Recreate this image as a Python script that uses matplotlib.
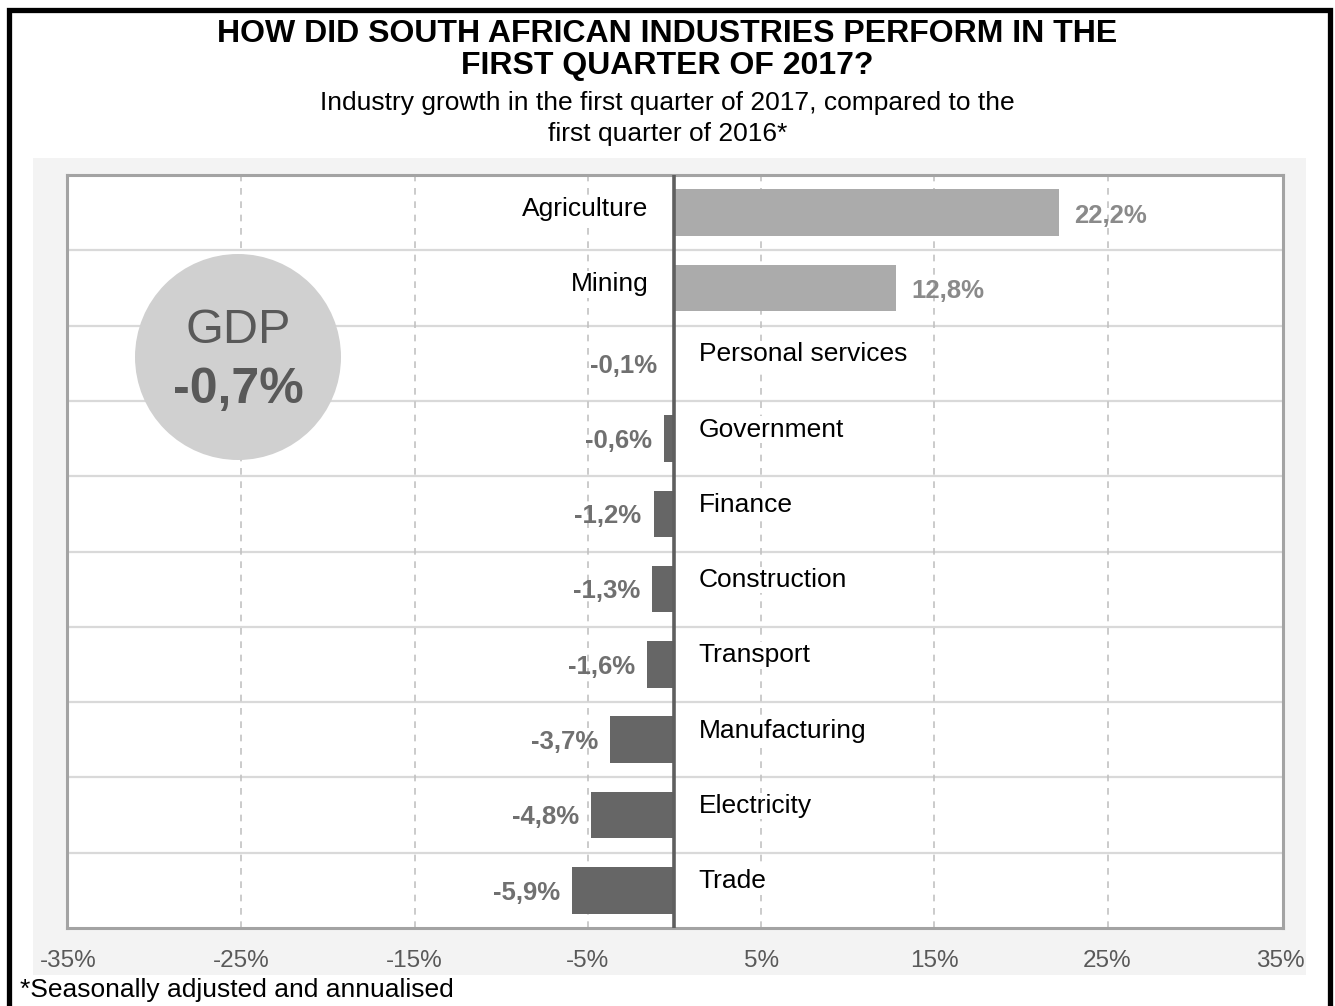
import matplotlib.pyplot as plt
from matplotlib.patches import Rectangle, Circle

plt.rcParams["font.family"] = ["Liberation Sans", "DejaVu Sans"]

W, H = 1335, 1006
DPI = 100

industries = ["Agriculture", "Mining", "Personal services", "Government", "Finance",
              "Construction", "Transport", "Manufacturing", "Electricity", "Trade"]
growth = [22.2, 12.8, -0.1, -0.6, -1.2, -1.3, -1.6, -3.7, -4.8, -5.9]
tick_values = [-35, -25, -15, -5, 5, 15, 25, 35]
tick_labels = ["-35%", "-25%", "-15%", "-5%", "5%", "15%", "25%", "35%"]
gdp_label = "GDP"
gdp_value = "-0,7%"

POS_BAR = "#ababab"
NEG_BAR = "#666666"
POS_TXT = "#8a8a8a"
NEG_TXT = "#707070"


def fx(x):
    return x / W


def fy(y):
    return (H - y) / H


fig = plt.figure(figsize=(W / DPI, H / DPI), dpi=DPI)

# light gray panel behind the plot
fig.add_artist(Rectangle((fx(33), fy(975)), fx(1306) - fx(33), fy(158) - fy(975),
                         transform=fig.transFigure, facecolor="#f3f3f3",
                         edgecolor="none", zorder=-2))
# black outer border (bottom edge runs off the image)
fig.add_artist(Rectangle((fx(8.5), -0.05), fx(1330) - fx(8.5), fy(10) + 0.05,
                         transform=fig.transFigure, facecolor="none",
                         edgecolor="black", linewidth=3.8, zorder=5))

ax = fig.add_axes([fx(67), fy(928), fx(1283) - fx(67), fy(175) - fy(928)])
ax.set_facecolor("white")

rows = list(range(len(industries)))
colors = [POS_BAR if v > 0 else NEG_BAR for v in growth]
ax.barh(rows, growth, height=0.62, color=colors, zorder=3)

ax.set_xlim(-35.07, 35.13)
ax.set_ylim(len(industries) - 0.5, -0.5)

# gridlines
for r in rows[:-1]:
    ax.axhline(r + 0.5, color="#d9d9d9", linewidth=1.6, zorder=1)
for t in tick_values[1:-1]:
    ax.axvline(t, color="#c2c2c2", linewidth=1.2, linestyle=(0, (4, 4)), zorder=1)
ax.axvline(0, color="#5f5f5f", linewidth=2.6, zorder=4)

for r, (name, v) in enumerate(zip(industries, growth)):
    if v > 0:
        ax.text(-1.5, r - 0.05, name, ha="right", va="center", fontsize=19,
                color="black", zorder=2,
                bbox=dict(facecolor="white", edgecolor="none", pad=1))
        ax.text(v + 0.9, r + 0.04, f"{v:.1f}%".replace(".", ","), ha="left",
                va="center", fontsize=18.5, fontweight="bold", color=POS_TXT, zorder=5)
    else:
        ax.text(1.4, r - 0.12, name, ha="left", va="center", fontsize=19,
                color="black", zorder=2,
                bbox=dict(facecolor="white", edgecolor="none", pad=1))
        ax.text(min(v, -0.3) - 0.7, r + 0.03, f"{v:.1f}%".replace(".", ","),
                ha="right", va="center", fontsize=18.5, fontweight="bold",
                color=NEG_TXT, zorder=5)

ax.set_xticks(tick_values)
ax.set_xticklabels(tick_labels)
ax.set_yticks([])
ax.tick_params(axis="x", length=0, pad=16, labelsize=17.5, labelcolor="#595959")
for s in ax.spines.values():
    s.set_color("#a3a3a3")
    s.set_linewidth(2.2)

# GDP bubble
fig.add_artist(Circle((238 / DPI, (H - 357) / DPI), 103 / DPI,
                      transform=fig.dpi_scale_trans, facecolor="#d0d0d0",
                      edgecolor="none", zorder=3))
fig.text(fx(238), fy(343), gdp_label, ha="center", va="baseline", fontsize=35,
         color="#595959", zorder=4)
fig.text(fx(238), fy(403), gdp_value, ha="center", va="baseline", fontsize=36,
         fontweight="bold", color="#595959", zorder=4)

# titles
fig.text(0.5, fy(42), "HOW DID SOUTH AFRICAN INDUSTRIES PERFORM IN THE",
         ha="center", va="baseline", fontsize=23, fontweight="bold")
fig.text(0.5, fy(74), "FIRST QUARTER OF 2017?", ha="center", va="baseline",
         fontsize=23, fontweight="bold")
fig.text(0.5, fy(110), "Industry growth in the first quarter of 2017, compared to the",
         ha="center", va="baseline", fontsize=19)
fig.text(0.5, fy(141), "first quarter of 2016*", ha="center", va="baseline", fontsize=19)

fig.text(fx(20), fy(997), "*Seasonally adjusted and annualised", ha="left",
         va="baseline", fontsize=19)

fig.savefig("out.png", dpi=DPI)
